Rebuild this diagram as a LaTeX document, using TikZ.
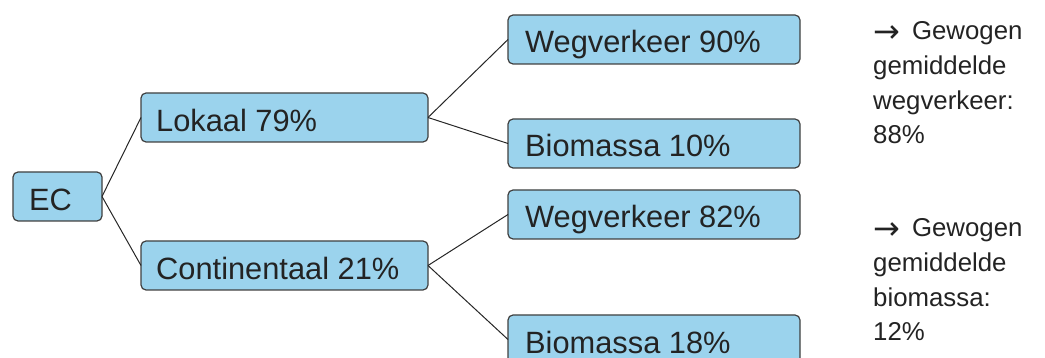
\documentclass[tikz,border=0pt]{standalone}
\usepackage{fontspec}
\setmainfont{Liberation Sans}
\newfontfamily\arrfont{DejaVu Sans}
\definecolor{boxfill}{RGB}{155,211,237}
\definecolor{boxline}{RGB}{64,64,64}
\definecolor{txt}{RGB}{35,35,35}
\newcommand{\rarr}{{\arrfont\fontsize{32}{34.8}\selectfont\raisebox{-2.5pt}{→}\hspace{12pt}}}
\begin{document}
\begin{tikzpicture}[x=1pt,y=-1pt,
  box/.style={draw=boxline, line width=1.2pt, fill=boxfill, rounded corners=5pt, minimum height=49pt, anchor=north west, inner sep=0pt, outer sep=0pt},
  lbl/.style={anchor=base west, inner sep=0pt, text=txt, font=\fontsize{30.8}{37}\selectfont},
  note/.style={anchor=base west, inner sep=0pt, text=txt, align=left, font=\fontsize{25.8}{34.8}\selectfont},
  conn/.style={draw=black!85, line width=1pt}]
\useasboundingbox (0,0) rectangle (1045,358);
% boxes
\node[box, minimum width=89pt] (ec) at (13,172) {};
\node[box, minimum width=287pt] (lok) at (141,93) {};
\node[box, minimum width=287pt] (con) at (141,241) {};
\node[box, minimum width=292pt] (w90) at (508,15) {};
\node[box, minimum width=292pt] (b10) at (508,119) {};
\node[box, minimum width=292pt] (w82) at (508,190) {};
\node[box, minimum width=292pt] (b18) at (508,315) {};
% labels
\node[lbl] (ect) at ([xshift=16pt,yshift=10pt]ec.south west) {EC};
\node[lbl] (lokt) at ([xshift=15pt,yshift=10pt]lok.south west) {Lokaal 79\%};
\node[lbl] (cont) at ([xshift=15pt,yshift=10pt]con.south west) {Continentaal 21\%};
\node[lbl] (w90t) at ([xshift=17pt,yshift=11pt]w90.south west) {Wegverkeer 90\%};
\node[lbl] (b10t) at ([xshift=17pt,yshift=11pt]b10.south west) {Biomassa 10\%};
\node[lbl] (w82t) at ([xshift=17pt,yshift=11pt]w82.south west) {Wegverkeer 82\%};
\node[lbl] (b18t) at ([xshift=17pt,yshift=11pt]b18.south west) {Biomassa 18\%};
% connectors
\draw[conn] (ec.east) -- (lok.west);
\draw[conn] (ec.east) -- (con.west);
\draw[conn] (lok.east) -- (w90.west);
\draw[conn] (lok.east) -- (b10.west);
\draw[conn] (con.east) -- (w82.west);
\draw[conn] (con.east) -- (b18.west);
% notes (anchored at the baseline of the last line)
\node[note] (n1) at (873,144) {\rarr Gewogen\\gemiddelde\\wegverkeer:\\88\%};
\node[note] (n2) at (873,341) {\rarr Gewogen\\gemiddelde\\biomassa:\\12\%};
\end{tikzpicture}
\end{document}
